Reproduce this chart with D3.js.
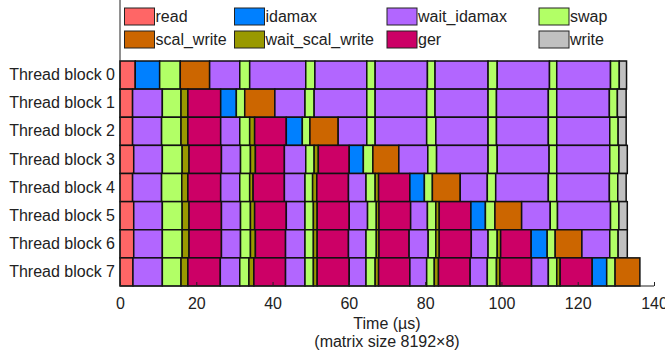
<!DOCTYPE html>
<html>
<head>
<meta charset="utf-8">
<script src="https://cdn.jsdelivr.net/npm/d3@7"></script>
<style>
  body { margin: 0; background: #fff; }
  svg { font-family: "Liberation Sans", Arial, sans-serif; }
</style>
</head>
<body>
<svg id="gantt" width="665" height="351"></svg>
<script>
// tareas y colores de la leyenda
const tareas = ['read', 'idamax', 'wait_idamax', 'swap', 'scal_write', 'wait_scal_write', 'ger', 'write'];
const colores = ['#FF6666', '#0080FF', '#B266FF', '#B2FF66', '#CC6600', '#999900', '#CC0066', '#C0C0C0'];
const bloques = ['Thread block 0', 'Thread block 1', 'Thread block 2', 'Thread block 3',
                 'Thread block 4', 'Thread block 5', 'Thread block 6', 'Thread block 7'];
const ticksX = [0, 20, 40, 60, 80, 100, 120, 140];

// cada tramo: [tarea, fin en µs]; empieza donde termina el anterior
const bloque0 = [['read', 4.0], ['idamax', 10.4], ['swap', 15.8], ['scal_write', 23.5], ['wait_idamax', 31.4], ['swap', 34.0],
  ['wait_idamax', 48.7], ['swap', 51.1], ['wait_idamax', 64.7], ['swap', 66.9], ['wait_idamax', 80.6], ['swap', 82.6],
  ['wait_idamax', 96.5], ['swap', 98.9], ['wait_idamax', 112.6], ['swap', 114.5], ['wait_idamax', 128.6], ['swap', 130.9], ['write', 132.8]];
const bloque1 = [['read', 3.3], ['wait_idamax', 11.1], ['swap', 16.0], ['wait_scal_write', 17.8], ['ger', 26.4], ['idamax', 30.5],
  ['swap', 32.7], ['scal_write', 40.6], ['wait_idamax', 48.5], ['swap', 50.9], ['wait_idamax', 64.7], ['swap', 66.9],
  ['wait_idamax', 80.4], ['swap', 82.6], ['wait_idamax', 96.5], ['swap', 98.7], ['wait_idamax', 112.3], ['swap', 114.5],
  ['wait_idamax', 128.3], ['swap', 130.4], ['write', 132.7]];
const bloque2 = [['read', 3.3], ['wait_idamax', 10.9], ['swap', 16.0], ['wait_scal_write', 17.8], ['ger', 26.4], ['wait_idamax', 31.4],
  ['swap', 34.0], ['wait_scal_write', 35.3], ['ger', 43.6], ['idamax', 47.8], ['swap', 49.8], ['scal_write', 57.2],
  ['wait_idamax', 64.7], ['swap', 66.9], ['wait_idamax', 80.4], ['swap', 82.8], ['wait_idamax', 96.5], ['swap', 98.7],
  ['wait_idamax', 112.3], ['swap', 114.5], ['wait_idamax', 128.4], ['swap', 130.6], ['write', 132.7]];
const bloque3 = [['read', 3.6], ['wait_idamax', 11.1], ['swap', 16.3], ['wait_scal_write', 18.1], ['ger', 26.6], ['wait_idamax', 31.6],
  ['swap', 34.2], ['wait_scal_write', 35.5], ['ger', 43.1], ['wait_idamax', 48.7], ['swap', 50.9], ['wait_scal_write', 52.0],
  ['ger', 60.1], ['idamax', 63.8], ['swap', 66.3], ['scal_write', 73.1], ['wait_idamax', 80.7], ['swap', 83.0],
  ['wait_idamax', 96.5], ['swap', 98.9], ['wait_idamax', 112.5], ['swap', 114.5], ['wait_idamax', 128.4], ['swap', 130.8], ['write', 133.0]];
const bloque4 = [['read', 3.3], ['wait_idamax', 10.9], ['swap', 16.2], ['wait_scal_write', 17.8], ['ger', 26.4], ['wait_idamax', 31.4],
  ['swap', 34.0], ['wait_scal_write', 34.9], ['ger', 43.1], ['wait_idamax', 48.5], ['swap', 50.5], ['wait_scal_write', 51.6],
  ['ger', 59.9], ['wait_idamax', 64.5], ['swap', 66.9], ['wait_scal_write', 67.8], ['ger', 76.0], ['idamax', 79.8],
  ['swap', 81.9], ['scal_write', 89.2], ['wait_idamax', 96.3], ['swap', 98.5], ['wait_idamax', 112.3], ['swap', 114.5],
  ['wait_idamax', 128.3], ['swap', 130.5], ['write', 132.7]];
const bloque5 = [['read', 3.6], ['wait_idamax', 11.1], ['swap', 16.3], ['wait_scal_write', 18.1], ['ger', 26.6], ['wait_idamax', 31.6],
  ['swap', 34.2], ['wait_scal_write', 35.3], ['ger', 43.6], ['wait_idamax', 48.5], ['swap', 50.7], ['wait_scal_write', 51.7],
  ['ger', 60.1], ['wait_idamax', 64.9], ['swap', 67.2], ['wait_scal_write', 67.9], ['ger', 76.2], ['wait_idamax', 80.6],
  ['swap', 82.8], ['wait_scal_write', 83.7], ['ger', 92.0], ['idamax', 95.8], ['swap', 98.3], ['scal_write', 105.3],
  ['wait_idamax', 112.8], ['swap', 114.7], ['wait_idamax', 128.6], ['swap', 130.8], ['write', 133.0]];
const bloque6 = [['read', 3.6], ['wait_idamax', 11.1], ['swap', 16.3], ['wait_scal_write', 18.1], ['ger', 26.6], ['wait_idamax', 31.6],
  ['swap', 34.2], ['wait_scal_write', 35.5], ['ger', 43.4], ['wait_idamax', 48.5], ['swap', 50.7], ['wait_scal_write', 51.7],
  ['ger', 59.9], ['wait_idamax', 64.5], ['swap', 67.2], ['wait_scal_write', 67.9], ['ger', 75.8], ['wait_idamax', 80.8],
  ['swap', 82.8], ['wait_scal_write', 83.7], ['ger', 92.1], ['wait_idamax', 96.5], ['swap', 98.9], ['wait_scal_write', 99.8],
  ['ger', 107.8], ['idamax', 112.0], ['swap', 114.1], ['scal_write', 121.1], ['wait_idamax', 128.4], ['swap', 130.6], ['write', 133.0]];
const bloque7 = [['read', 3.4], ['wait_idamax', 11.1], ['swap', 16.0], ['wait_scal_write', 17.8], ['ger', 26.3], ['wait_idamax', 31.4],
  ['swap', 33.8], ['wait_scal_write', 35.1], ['ger', 43.4], ['wait_idamax', 48.5], ['swap', 50.7], ['wait_scal_write', 51.7],
  ['ger', 60.1], ['wait_idamax', 64.5], ['swap', 66.9], ['wait_scal_write', 67.8], ['ger', 76.0], ['wait_idamax', 80.4],
  ['swap', 82.4], ['wait_scal_write', 83.5], ['ger', 91.8], ['wait_idamax', 96.3], ['swap', 98.7], ['wait_scal_write', 99.6],
  ['ger', 107.9], ['wait_idamax', 112.3], ['swap', 114.5], ['wait_scal_write', 115.4], ['ger', 123.8], ['idamax', 127.6],
  ['swap', 129.8], ['scal_write', 136.3]];

const filas = [bloque0, bloque1, bloque2, bloque3, bloque4, bloque5, bloque6, bloque7];

// pasar a tramos con inicio y fin
let tramos = [];
filas.forEach((fila, i) => {
    let inicio = 0;
    fila.forEach(t => {
        tramos.push({bloque: bloques[i], tarea: t[0], inicio: inicio, fin: t[1]});
        inicio = t[1];
    });
});

let svg = d3.select("#gantt");
let margen = {left: 120, right: 654, top: 61, bottom: 286};

let x = d3.scaleLinear().domain([0, 140]).range([margen.left, margen.right]);
let y = d3.scaleBand().domain(bloques).range([margen.top, margen.bottom]).padding(0);
let color = d3.scaleOrdinal().domain(tareas).range(colores);

svg.selectAll(".tramo")
    .data(tramos)
    .enter()
    .append("rect")
    .attr("class", "tramo")
    .attr("x", d => x(d.inicio))
    .attr("y", d => y(d.bloque))
    .attr("width", d => x(d.fin) - x(d.inicio))
    .attr("height", y.bandwidth())
    .style("fill", d => color(d.tarea))
    .style("stroke", "#111")
    .style("stroke-width", 1.5);

// eje x
let ejeX = svg.append("g")
    .attr("transform", `translate(0,${margen.bottom})`)
    .call(d3.axisBottom(x).tickValues(ticksX).tickSize(-4).tickPadding(12));
ejeX.select(".domain").attr("d", `M${margen.left},0H${margen.right}`).style("stroke", "#222");
ejeX.selectAll(".tick line").style("stroke", "#222");
ejeX.selectAll("text").style("font-size", "16px").style("fill", "#222");

// eje y
let ejeY = svg.append("g")
    .attr("transform", `translate(${margen.left},0)`)
    .call(d3.axisLeft(y).tickSize(0).tickPadding(5));
ejeY.select(".domain").attr("d", `M0,0V${margen.bottom}`).style("stroke", "#222");
ejeY.selectAll("text").style("font-size", "16px").style("fill", "#222");

svg.append("text")
    .attr("x", (margen.left + margen.right) / 2)
    .attr("y", 329)
    .attr("text-anchor", "middle")
    .style("font-size", "16px")
    .style("fill", "#222")
    .text("Time (µs)");

svg.append("text")
    .attr("x", (margen.left + margen.right) / 2)
    .attr("y", 347)
    .attr("text-anchor", "middle")
    .style("font-size", "16px")
    .style("fill", "#222")
    .text("(matrix size 8192×8)");

// leyenda: 4 columnas, 2 filas
let colLeyenda = [124.5, 234.5, 387, 539];
let ordenLeyenda = ['read', 'idamax', 'wait_idamax', 'swap', 'scal_write', 'wait_scal_write', 'ger', 'write'];

let item = svg.selectAll(".leyenda")
    .data(ordenLeyenda)
    .enter()
    .append("g")
    .attr("class", "leyenda")
    .attr("transform", (d, i) => `translate(${colLeyenda[i % 4]},${i < 4 ? 8 : 31})`);

item.append("rect")
    .attr("width", 30)
    .attr("height", 17)
    .style("fill", d => color(d))
    .style("stroke", "#222")
    .style("stroke-width", 1);

item.append("text")
    .attr("x", 31)
    .attr("y", 8.5)
    .attr("dy", "0.35em")
    .style("font-size", "16px")
    .style("fill", "#222")
    .text(d => d);
</script>
</body>
</html>
